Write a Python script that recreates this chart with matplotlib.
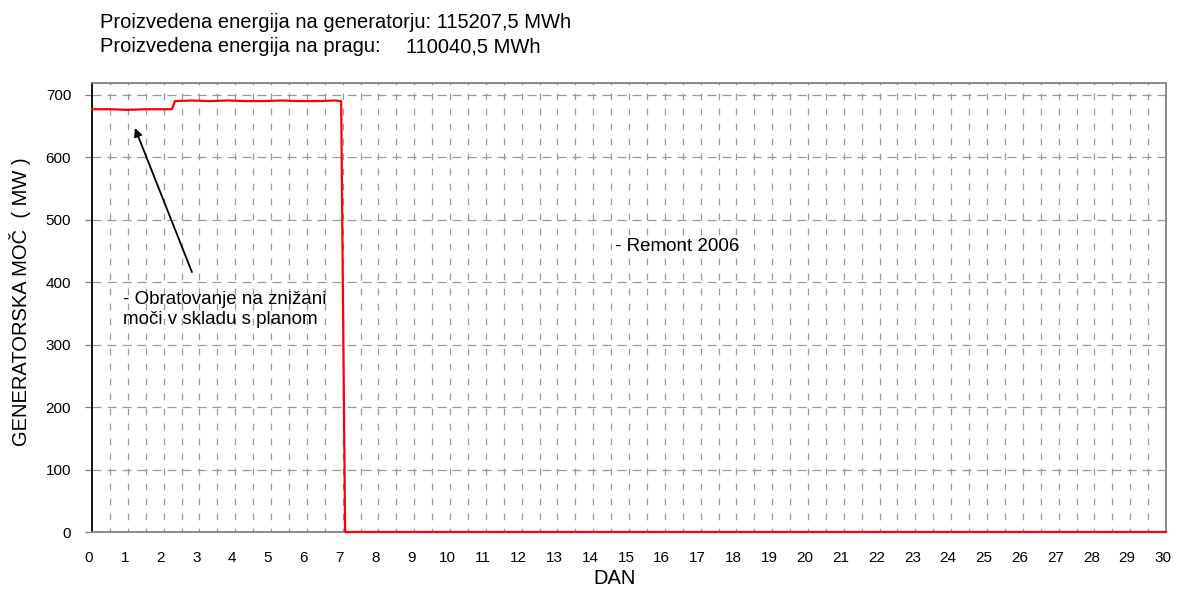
import matplotlib
matplotlib.use("Agg")
import matplotlib.pyplot as plt
import matplotlib.transforms as mtransforms
import numpy as np

plt.rcParams['font.family'] = ['Liberation Sans', 'DejaVu Sans']
plt.rcParams['lines.scale_dashes'] = False

# Data
days = [0, 0.5, 1.0, 1.5, 2.0, 2.23, 2.32, 2.8, 3.3, 3.8, 4.3, 4.8, 5.3, 5.8, 6.3, 6.8, 6.93, 6.96, 7.07, 30]
power_mw = [677, 677, 676, 677, 677, 677, 690, 691, 690, 691, 690, 690, 691, 690, 690, 691, 690, 690, 0, 0]

x_ticks = list(range(0, 31))
y_ticks = [0, 100, 200, 300, 400, 500, 600, 700]
title_line1 = "Proizvedena energija na generatorju: 115207,5 MWh"
title_line2a = "Proizvedena energija na pragu:"
title_line2b = "110040,5 MWh"
ylabel = "GENERATORSKA MOČ  ( MW )"
xlabel = "DAN"
note_reduced = "- Obratovanje na znižani\nmoči v skladu s planom"
note_remont = "- Remont 2006"

W, H = 1179, 595
fig = plt.figure(figsize=(W / 100, H / 100), dpi=100)
ax_left, ax_right, ax_top, ax_bottom = 92, 1166, 83, 532
ax = fig.add_axes([ax_left / W, 1 - ax_bottom / H, (ax_right - ax_left) / W, (ax_bottom - ax_top) / H])

grid_col = '#999999'
for yv in y_ticks[1:]:
    ax.axhline(yv, color=grid_col, lw=0.9, linestyle=(0, (6.5, 4.3)), zorder=1)
for xv in np.arange(0.5, 30, 0.5):
    ax.axvline(xv, color=grid_col, lw=0.9, linestyle=(2.0, (4.8, 6.0)), zorder=1)

ax.plot(days, power_mw, color='#ff0000', lw=1.6, zorder=3, clip_on=False)

ax.set_xlim(0, 30)
ax.set_ylim(0, 719)
ax.set_xticks(x_ticks)
ax.set_yticks(y_ticks)
ax.tick_params(axis='x', length=0, pad=14, labelsize=11)
ax.tick_params(axis='y', length=5, width=0.9, color='#808080', pad=10, labelsize=11)
shift = mtransforms.ScaledTranslation(-3 / 100, 0, fig.dpi_scale_trans)
for lbl in ax.get_xticklabels():
    lbl.set_transform(lbl.get_transform() + shift)

for s in ['top', 'right', 'bottom']:
    ax.spines[s].set_color('#808080')
    ax.spines[s].set_linewidth(1.3)
ax.spines['left'].set_color('black')
ax.spines['left'].set_linewidth(1.3)

big = 14.5
fig.text(100 / W, 1 - 23 / H, title_line1, fontsize=big, va='center', ha='left')
fig.text(100 / W, 1 - 47 / H, title_line2a, fontsize=big, va='center', ha='left')
fig.text(406 / W, 1 - 47 / H, title_line2b, fontsize=big, va='center', ha='left')

fig.text(20 / W, 1 - 302 / H, ylabel, rotation=90, fontsize=big, va='center', ha='center')
fig.text(615 / W, 1 - 578 / H, xlabel, fontsize=big, va='center', ha='center')

ax.annotate('', xy=(1.17, 651), xytext=(2.82, 412),
            arrowprops=dict(arrowstyle='-|>', color='black', lw=1.3, mutation_scale=12), zorder=4)
note_lines = note_reduced.split('\n')
note_y = [372, 340]
for txt, yv in zip(note_lines, note_y):
    ax.text(0.87, yv, txt, fontsize=13.5, va='center', ha='left', zorder=4)
ax.text(14.61, 457, note_remont, fontsize=13.5, va='center', ha='left', zorder=4)

fig.savefig('out.png', dpi=100)
